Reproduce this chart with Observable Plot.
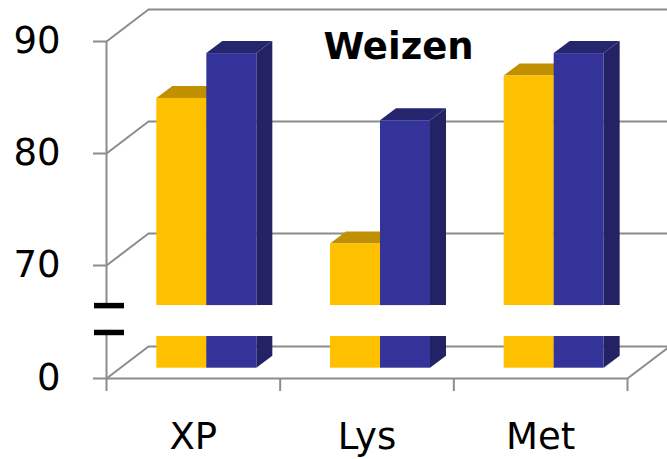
<!DOCTYPE html>
<html><head><meta charset="utf-8">
<script src="https://cdn.jsdelivr.net/npm/d3@7"></script>
<script src="https://cdn.jsdelivr.net/npm/@observablehq/plot@0.6"></script>
<style>html,body{margin:0;padding:0;background:#fff;}#chart{width:667px;height:459px;}</style>
</head><body><div id="chart"></div>
<script>
// ---- data ----
const categories = ["XP", "Lys", "Met"];
const yellowValues = [84, 71, 86];
const blueValues = [88, 82, 88];
const yTicks = [0, 70, 80, 90];
const gridValues = [70, 80, 90];
const titleText = "Weizen";

// ---- layout / style ----
const W = 667, H = 459;
const lowCut = 2.83, highCut = 65.5;           // broken-axis cut values
const lowBreak = 3.19, highBreak = 65.5;        // break-mark positions
const yDomain = [0, 4, 65.5, 93];
const yRange = [367.7, 322.9, 305.1, -2.9];
const marginLeft = 119.5, marginRight = 26.5;
const pxPerX = (W - marginLeft - marginRight) / 3;
const pxPerY = 11.2;
const wallFront = {dx: -13.5, dy: 10.3};
const wallBack = {dx: 28.5, dy: -21.7};
const depthX = 42 / pxPerX, depthY = 32 / pxPerY;
const barW = 50 / pxPerX;
const barDX = 16 / pxPerX, barDY = 12 / pxPerY;
const gridColor = "#8c8c8c";
const palettes = [
  {front: "#FFC000", top: "#C09000", side: "#A07800"},
  {front: "#333399", top: "#26266F", side: "#222264"}
];

const series = [yellowValues, blueValues];
const bars = [];
series.forEach((vals, s) => vals.forEach((v, i) => {
  const x1 = i + 0.5 + (s - 1) * barW;
  bars.push({s, i, v, x1, x2: x1 + barW, id: `${s}-${i}`});
}));

function barMarks(s) {
  const p = palettes[s];
  const b = bars.filter(d => d.s === s);
  const side = b.flatMap(d => [
    {id: d.id + "u", x: d.x2, y1: highCut, y2: d.v},
    {id: d.id + "u", x: d.x2 + barDX, y1: highCut, y2: d.v + barDY},
    {id: d.id + "l", x: d.x2, y1: 0, y2: lowCut},
    {id: d.id + "l", x: d.x2 + barDX, y1: barDY, y2: lowCut}
  ]);
  const top = b.flatMap(d => [
    {id: d.id, y: d.v, x1: d.x1, x2: d.x2},
    {id: d.id, y: d.v + barDY, x1: d.x1 + barDX, x2: d.x2 + barDX}
  ]);
  const fronts = b.flatMap(d => [
    {x1: d.x1, x2: d.x2, y1: highCut, y2: d.v},
    {x1: d.x1, x2: d.x2, y1: 0, y2: lowCut}
  ]);
  return [
    Plot.areaY(side, {x: "x", y1: "y1", y2: "y2", z: "id", fill: p.side}),
    Plot.areaX(top, {y: "y", x1: "x1", x2: "x2", z: "id", fill: p.top}),
    Plot.rect(fronts, {x1: "x1", x2: "x2", y1: "y1", y2: "y2", fill: p.front})
  ];
}

const chart = Plot.plot({
  width: W, height: H,
  marginLeft, marginRight, marginTop: 0, marginBottom: H - yRange[0],
  style: {fontFamily: "DejaVu Sans", background: "#fff", color: "#000"},
  x: {type: "linear", domain: [0, 3]},
  y: {type: "linear", domain: yDomain, range: yRange},
  marks: [
    // back wall + floor back edge
    Plot.ruleY([0, ...gridValues], {y: d => d, x1: 0, x2: 3, ...wallBack, stroke: gridColor, strokeWidth: 2}),
    // side wall diagonals
    Plot.link(yTicks, {x1: 0, y1: d => d, x2: depthX, y2: d => d + depthY, ...wallFront, stroke: gridColor, strokeWidth: 2}),
    Plot.link([0], {x1: 3, y1: d => d, x2: 3 + depthX, y2: d => d + depthY, ...wallFront, stroke: gridColor, strokeWidth: 2}),
    // floor front edge
    Plot.ruleY([0], {y: d => d, x1: 0, x2: 3, ...wallFront, stroke: gridColor, strokeWidth: 2}),
    // bars
    ...barMarks(0),
    ...barMarks(1),
    // vertical axis line (broken)
    Plot.ruleX([{y1: 0, y2: 3.93}, {y1: 66.4, y2: 90}], {x: 0, y1: "y1", y2: "y2", ...wallFront, stroke: gridColor, strokeWidth: 2}),
    // break marks
    Plot.ruleY([lowBreak, highBreak], {y: d => d, x1: -0.147, x2: 0.026, stroke: "#000", strokeWidth: 5.5}),
    // axes
    Plot.axisY(yTicks, {tickSize: 13, tickPadding: 33, fontSize: 37, ...wallFront, stroke: gridColor, strokeWidth: 2, fill: "#000", label: null}),
    Plot.axisX([0, 1, 2, 3], {tickSize: 13, tickFormat: () => "", ...wallFront, stroke: gridColor, strokeWidth: 2, label: null}),
    Plot.axisX([0.5, 1.5, 2.5], {tickSize: 0, tickPadding: 44, tickFormat: d => categories[Math.floor(d)], fontSize: 37, ...wallFront, fill: "#000", label: null}),
    // title
    Plot.text([titleText], {text: d => d, frameAnchor: "top", lineAnchor: "middle", dx: 18, dy: 47, fontSize: 37, fontWeight: "bold", fill: "#000"})
  ]
});
document.getElementById("chart").appendChild(chart);
</script>
</body></html>
